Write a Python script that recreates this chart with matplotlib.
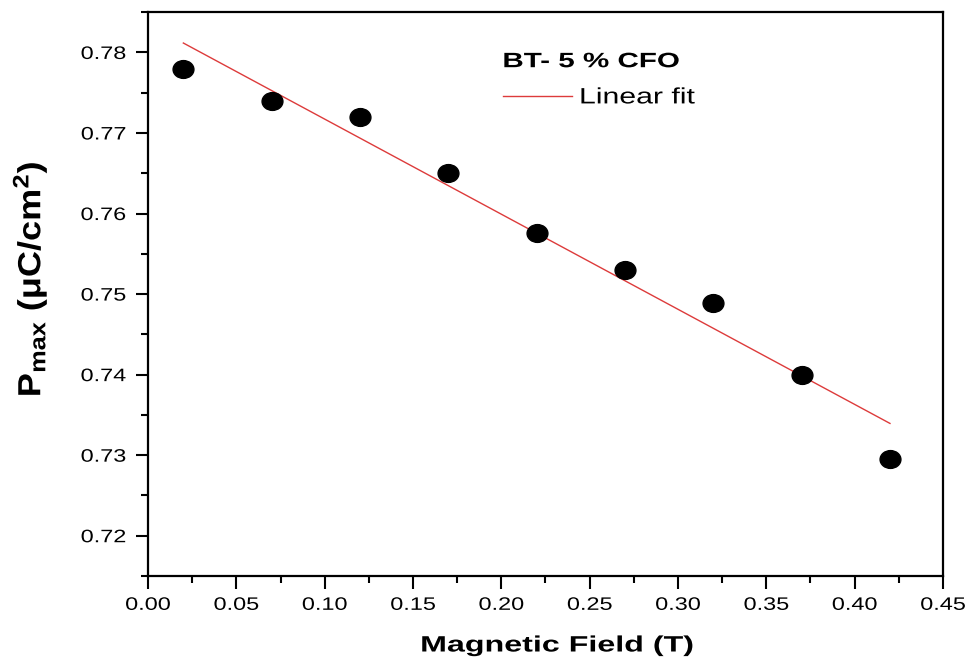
import matplotlib
matplotlib.use("Agg")
import matplotlib.pyplot as plt
from matplotlib.ticker import MultipleLocator
from matplotlib.lines import Line2D
from matplotlib.path import Path
from matplotlib.transforms import Affine2D
from matplotlib.patheffects import AbstractPathEffect
import numpy as np

plt.rcParams['font.family'] = ['Liberation Sans', 'DejaVu Sans']
plt.rcParams['mathtext.fontset'] = 'custom'
plt.rcParams['mathtext.rm'] = 'Liberation Sans:bold'
plt.rcParams['mathtext.default'] = 'rm'

field = [0.02, 0.07, 0.12, 0.17, 0.22, 0.27, 0.32, 0.37, 0.42]
pmax = [0.778, 0.774, 0.772, 0.765, 0.7576, 0.753, 0.7489, 0.740, 0.7295]


# the reference text is drawn wide, so stretch glyphs around an anchor
class Stretch(AbstractPathEffect):
    def __init__(self, sx=1.4, sy=1.0, anchor='center'):
        super().__init__()
        self.sx, self.sy, self.anchor = sx, sy, anchor

    def draw_path(self, renderer, gc, tpath, affine, rgbFace=None):
        ext = affine.transform_path(tpath).get_extents()
        if self.anchor == 'left':
            x0 = ext.x0
        elif self.anchor == 'right':
            x0 = ext.x1
        else:
            x0 = (ext.x0 + ext.x1) / 2
        y0 = (ext.y0 + ext.y1) / 2
        t = affine + Affine2D().translate(-x0, -y0).scale(self.sx, self.sy).translate(x0, y0)
        renderer.draw_path(gc, tpath, t, rgbFace)


slope, intercept = np.polyfit(field, pmax, 1)
fit_x = np.array([field[0], field[-1]])
fit_y = slope * fit_x + intercept

fig = plt.figure(figsize=(9.79, 6.61), dpi=100)
ax = fig.add_axes([0.1512, 0.1286, 0.812, 0.853])

oval = Path.unit_circle().transformed(Affine2D().scale(1.17, 1.0))
ax.plot(field, pmax, linestyle='none', marker=oval, color='black', markersize=15, zorder=3)
ax.plot(fit_x, fit_y, color='#dd3b3b', linewidth=1.0)

ax.set_xlim(0.0, 0.45)
ax.set_ylim(0.715, 0.785)
ax.xaxis.set_major_locator(MultipleLocator(0.05))
ax.xaxis.set_minor_locator(MultipleLocator(0.025))
ax.yaxis.set_major_locator(MultipleLocator(0.01))
ax.yaxis.set_minor_locator(MultipleLocator(0.005))
ax.xaxis.set_major_formatter(plt.FormatStrFormatter('%.2f'))
ax.yaxis.set_major_formatter(plt.FormatStrFormatter('%.2f'))

ax.tick_params(which='major', direction='out', length=9, width=1.5, labelsize=13, pad=6)
ax.tick_params(axis='y', which='major', pad=7)
ax.tick_params(which='minor', direction='out', length=5, width=1.5)
for s in ax.spines.values():
    s.set_linewidth(1.6)

fig.text(557 / 979, 1 - 646 / 661, "Magnetic Field (T)", fontsize=16, fontweight='bold',
         ha='center', va='center', path_effects=[Stretch(1.45)])
fig.text(30 / 979, 1 - 279 / 661, r"P$_{max}$ ($\mu$C/cm$^{2}$)", fontsize=20,
         fontweight='bold', rotation=90, ha='center', va='center',
         path_effects=[Stretch(1.15, 1.3)])

handle = Line2D([], [], color='#dd3b3b', linewidth=1.0)
leg = ax.legend([handle], ["Linear fit"], title="BT- 5 % CFO", loc='upper left',
                bbox_to_anchor=(0.4465, 0.929), frameon=False, fontsize=16,
                borderpad=0, borderaxespad=0, handlelength=3.1, handletextpad=0.35,
                labelspacing=0.73, alignment='left')
leg.get_title().set_fontsize(15)
leg.get_title().set_fontweight('bold')
leg.get_title().set_path_effects([Stretch(1.42, anchor='left')])
for t in leg.get_texts():
    t.set_path_effects([Stretch(1.36, anchor='left')])

fig.canvas.draw()
for lbl in ax.get_xticklabels():
    lbl.set_path_effects([Stretch(1.3)])
for lbl in ax.get_yticklabels():
    lbl.set_path_effects([Stretch(1.3, anchor='right')])

fig.savefig("out.png", dpi=100)
